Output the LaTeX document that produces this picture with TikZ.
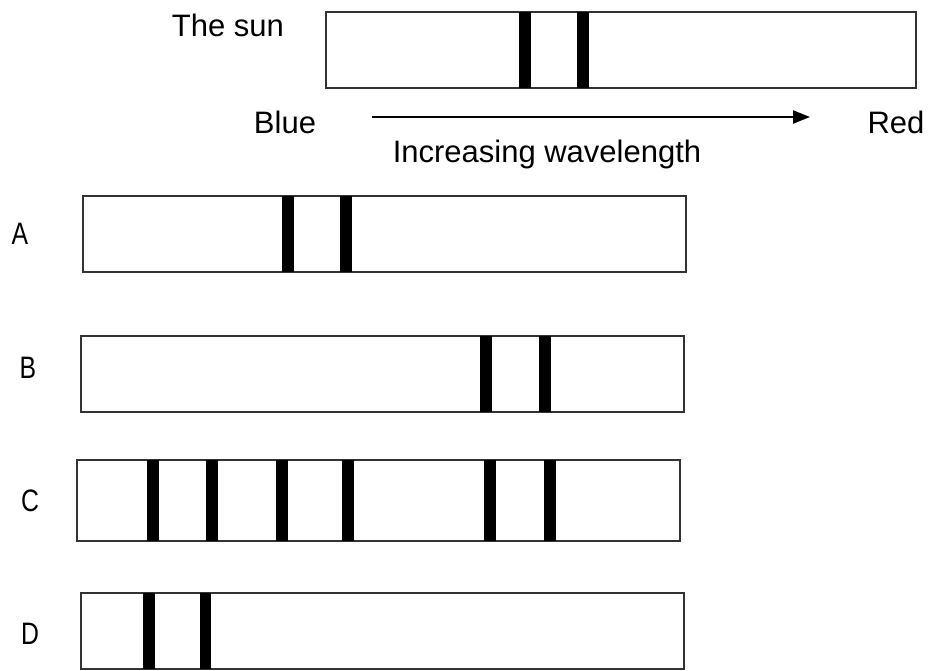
\documentclass[tikz,border=0pt]{standalone}
\usepackage{fontspec}
\setmainfont{Liberation Sans}
\usetikzlibrary{arrows.meta}
\tikzset{
  specbox/.style={draw=black!80, line width=1.4pt, fill=white, inner sep=0pt, minimum width=603pt, minimum height=76pt},
  band/.style={fill=black, draw=none, inner sep=0pt, minimum width=12.5pt, minimum height=#1},
  band/.default=76pt,
  lbl/.style={inner sep=0pt, font=\fontsize{31}{33}\selectfont},
  letter/.style={inner sep=0pt, font=\fontsize{31}{33}\selectfont, xscale=0.8},
}
\begin{document}
\begin{tikzpicture}[x=1pt, y=-1pt]
\useasboundingbox (0,0) rectangle (928,670);
% sun
\node[specbox, minimum width=590pt] (sun) at (621,50) {};
\node[band] (s1) at (525,50) {};
\node[band] (s2) at (583,50) {};
\node[lbl] (thesun) at (228,25) {The sun};
\node[lbl] (blue) at (285,122) {Blue};
\node[lbl] (red) at (896,122) {Red};
\coordinate (arrS) at (372,117);
\coordinate (arrE) at (810,117);
\draw[line width=2.2pt, -{Triangle[length=17pt,width=13pt]}] (arrS) -- (arrE);
\node[lbl] (incr) at (547,154) {Increasing wavelength};
% A
\node[specbox] (boxA) at (384.5,234) {};
\node[band] (a1) at (288,234) {};
\node[band] (a2) at (346,234) {};
\node[letter] (labA) at (20,234) {A};
% B
\node[specbox] (boxB) at (382.5,374) {};
\node[band] (b1) at (486,374) {};
\node[band] (b2) at (545,374) {};
\node[letter] (labB) at (28,368) {B};
% C
\node[specbox, minimum height=81pt] (boxC) at (378.5,500.5) {};
\foreach \x [count=\i] in {153,212,282,348,490,550}
  \node[band=81pt] (c\i) at (\x,500.5) {};
\node[letter] (labC) at (30,501) {C};
% D
\node[specbox] (boxD) at (382.5,631) {};
\node[band] (d1) at (149,631) {};
\node[band, minimum width=11pt] (d2) at (205,631) {};
\node[letter] (labD) at (30,634) {D};
\end{tikzpicture}
\end{document}
